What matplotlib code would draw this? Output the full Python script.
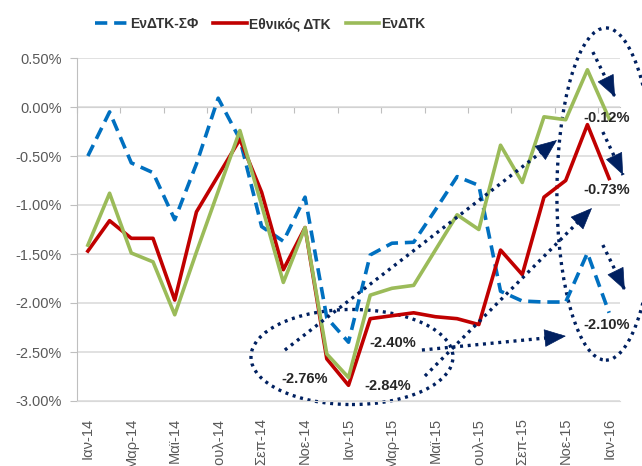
import matplotlib
matplotlib.use('Agg')
import matplotlib.pyplot as plt
from matplotlib.patches import Ellipse
from matplotlib.ticker import FuncFormatter

plt.rcParams['font.family'] = ['Liberation Sans', 'DejaVu Sans']

months = ['Ιαν-14', 'Φεβ-14', 'Μαρ-14', 'Απρ-14', 'Μαϊ-14', 'Ιουν-14', 'Ιουλ-14',
          'Αυγ-14', 'Σεπ-14', 'Οκτ-14', 'Νοε-14', 'Δεκ-14', 'Ιαν-15', 'Φεβ-15',
          'Μαρ-15', 'Απρ-15', 'Μαϊ-15', 'Ιουν-15', 'Ιουλ-15', 'Αυγ-15', 'Σεπ-15',
          'Οκτ-15', 'Νοε-15', 'Δεκ-15', 'Ιαν-16']
tick_labels = months[::2]

# values in %
enDTK_SF = [-0.50, -0.05, -0.57, -0.67, -1.15, -0.58, 0.09, -0.33, -1.22, -1.37,
            -0.92, -2.15, -2.40, -1.51, -1.39, -1.38, -1.05, -0.71, -0.80, -1.88,
            -1.98, -1.99, -1.99, -1.49, -2.10]
ethnikos = [-1.47, -1.16, -1.34, -1.34, -1.97, -1.07, -0.70, -0.33, -0.87, -1.66,
            -1.23, -2.57, -2.84, -2.16, -2.13, -2.10, -2.14, -2.16, -2.22, -1.46,
            -1.71, -0.92, -0.75, -0.18, -0.73]
enDTK = [-1.41, -0.88, -1.49, -1.58, -2.12, -1.48, -0.86, -0.24, -1.00, -1.79,
         -1.23, -2.52, -2.76, -1.92, -1.85, -1.82, -1.46, -1.10, -1.25, -0.39,
         -0.77, -0.10, -0.13, 0.38, -0.12]

yticks = [0.5, 0.0, -0.5, -1.0, -1.5, -2.0, -2.5, -3.0]

navy = '#002060'
grey = '#BFBFBF'
dots = (0, (0.9, 1.4))

fig = plt.figure(figsize=(6.42, 4.66), dpi=100)
ax = fig.add_axes([77 / 642, 65 / 466, 543 / 642, 343 / 466])

x = list(range(len(months)))
ax.plot(x, enDTK_SF, color='#0070C0', lw=2.6, dashes=(3.4, 1.9), label='ΕνΔΤΚ-ΣΦ')
ax.plot(x, ethnikos, color='#C00000', lw=2.6, label='Εθνικός ΔΤΚ')
ax.plot(x, enDTK, color='#9BBB59', lw=2.6, label='ΕνΔΤΚ')

ax.set_xlim(-0.5, 24.5)
ax.set_ylim(-3.0, 0.5)
ax.set_yticks(yticks)
ax.yaxis.set_major_formatter(FuncFormatter(lambda v, _: f'{v:.2f}%'))
ax.set_xticks(x[::2])
ax.set_xticklabels(tick_labels, rotation=90)
ax.tick_params(axis='x', length=0, pad=12, labelsize=10.5, labelcolor='#595959')
ax.tick_params(axis='y', length=5, color=grey, pad=6, labelsize=10.5, labelcolor='#595959')

ax.yaxis.grid(True, color='#D9D9D9', lw=1.1)
ax.set_axisbelow(True)
for s in ['top', 'right']:
    ax.spines[s].set_visible(False)
ax.spines['left'].set_color(grey)
ax.spines['bottom'].set_color('#D9D9D9')

# category axis line crossing at 0
sec = ax.secondary_xaxis(0, transform=ax.transData)
sec.set_xticks([i + 0.5 for i in range(-1, 25, 2)])
sec.tick_params(axis='x', direction='out', length=4, color=grey, labelbottom=False)
sec.spines['bottom'].set_color(grey)

fig.legend(loc='center', bbox_to_anchor=(0.405, 0.948), ncol=3, frameon=False,
           prop=dict(weight='bold', size=10), handlelength=2.4, handletextpad=0.15,
           columnspacing=1.1, labelcolor='#333333')

# annotations
ax.add_patch(Ellipse((12.16, -2.551), 9.30, 0.97, fill=False, ec=navy, lw=2.4,
                     ls=dots, clip_on=False))
ax.add_patch(Ellipse((23.85, -0.888), 4.51, 3.39, fill=False, ec=navy, lw=2.4,
                     ls=dots, clip_on=False))

arrows = [((9.07, -2.48), (21.60, -0.337)),
          ((15.52, -2.745), (23.21, -1.031)),
          ((15.38, -2.48), (22.01, -2.337)),
          ((23.25, 0.561), (24.27, 0.102)),
          ((23.71, -0.255), (24.64, -0.694)),
          ((23.71, -1.408), (24.72, -1.867))]
for (sx, sy), (ex, ey) in arrows:
    ax.plot([sx, ex], [sy, ey], color=navy, lw=2.4, ls=dots, clip_on=False)
    # solid head: short arrow in screen direction of the shaft
    p0 = ax.transData.transform((sx, sy))
    p1 = ax.transData.transform((ex, ey))
    d = (p1 - p0) / ((p1 - p0) ** 2).sum() ** 0.5
    ax.annotate('', xy=(ex, ey), xytext=(-d[0] * 16, -d[1] * 16),
                textcoords='offset pixels', annotation_clip=False,
                arrowprops=dict(arrowstyle='-|>,head_length=1.45,head_width=0.6',
                                color=navy, lw=0.5, shrinkA=0, shrinkB=0))

labels = [(23.90, -0.112, enDTK[-1]),
          (23.90, -0.847, ethnikos[-1]),
          (23.90, -2.224, enDTK_SF[-1]),
          (14.05, -2.408, enDTK_SF[12]),
          (9.995, -2.776, enDTK[12]),
          (13.82, -2.847, ethnikos[12])]
for lx, ly, v in labels:
    ax.text(lx, ly, f'{v:.2f}%', ha='center', va='center', fontsize=10.5,
            fontweight='bold', color='#262626')

fig.savefig('out.png', dpi=100)
